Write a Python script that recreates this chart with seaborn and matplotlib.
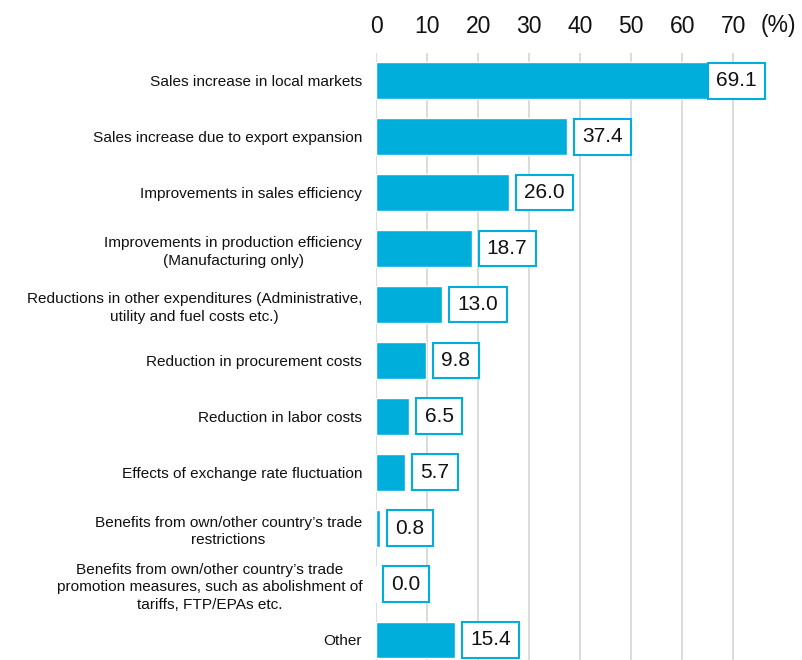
import matplotlib
matplotlib.use("Agg")
import pandas as pd
import seaborn as sns
from matplotlib import pyplot as plt

# data
categories = [
    "Sales increase in local markets",
    "Sales increase due to export expansion",
    "Improvements in sales efficiency",
    "Improvements in production efficiency\n(Manufacturing only)",
    "Reductions in other expenditures (Administrative,\nutility and fuel costs etc.)",
    "Reduction in procurement costs",
    "Reduction in labor costs",
    "Effects of exchange rate fluctuation",
    "Benefits from own/other country\u2019s trade\nrestrictions",
    "Benefits from own/other country\u2019s trade\npromotion measures, such as abolishment of\ntariffs, FTP/EPAs etc.",
    "Other",
]
values = [69.1, 37.4, 26.0, 18.7, 13.0, 9.8, 6.5, 5.7, 0.8, 0.0, 15.4]
xticks = [0, 10, 20, 30, 40, 50, 60, 70]

BLUE = "#00AEDB"

df = pd.DataFrame({"item": categories, "pct": values})

sns.set_theme(style="white")
plt.rcParams["font.family"] = ["Liberation Sans", "DejaVu Sans"]

fig = plt.figure(figsize=(8.02, 6.6), dpi=100)
ax = fig.add_axes([0.469, -0.012, 0.509, 0.932])

sns.barplot(data=df, x="pct", y="item", orient="h", color=BLUE,
            saturation=1, width=0.66, ax=ax)

ax.set_xlim(0, 80)
ax.set_xticks(xticks)
ax.xaxis.tick_top()
ax.tick_params(axis="x", labelsize=16.5, length=0, pad=11, colors="#111111")
ax.tick_params(axis="y", labelsize=11.1, length=0, pad=10, colors="#111111")
for lab in ax.get_yticklabels():
    lab.set_multialignment("center")
    lab.set_linespacing(1.35)
ax.set_xlabel("")
ax.set_ylabel("")
ax.grid(axis="x", color="#D9D9D9", linewidth=1.3)
ax.set_axisbelow(True)
for s in ax.spines.values():
    s.set_visible(False)

# unit label beside the top ticks
ax.annotate("(%)", xy=(78.8, 1.0), xycoords=ax.get_xaxis_transform(),
            xytext=(0, 20), textcoords="offset points",
            fontsize=16.5, ha="center", va="center", color="#111111")

# boxed value labels
for i, v in enumerate(values):
    ax.text(min(v + 3.0, 66.6), i, f"{v:.1f}", fontsize=15, ha="left",
            va="center", color="#111111",
            bbox=dict(boxstyle="square,pad=0.4", facecolor="white",
                      edgecolor=BLUE, linewidth=1.5))

fig.savefig("out.png", dpi=100)
